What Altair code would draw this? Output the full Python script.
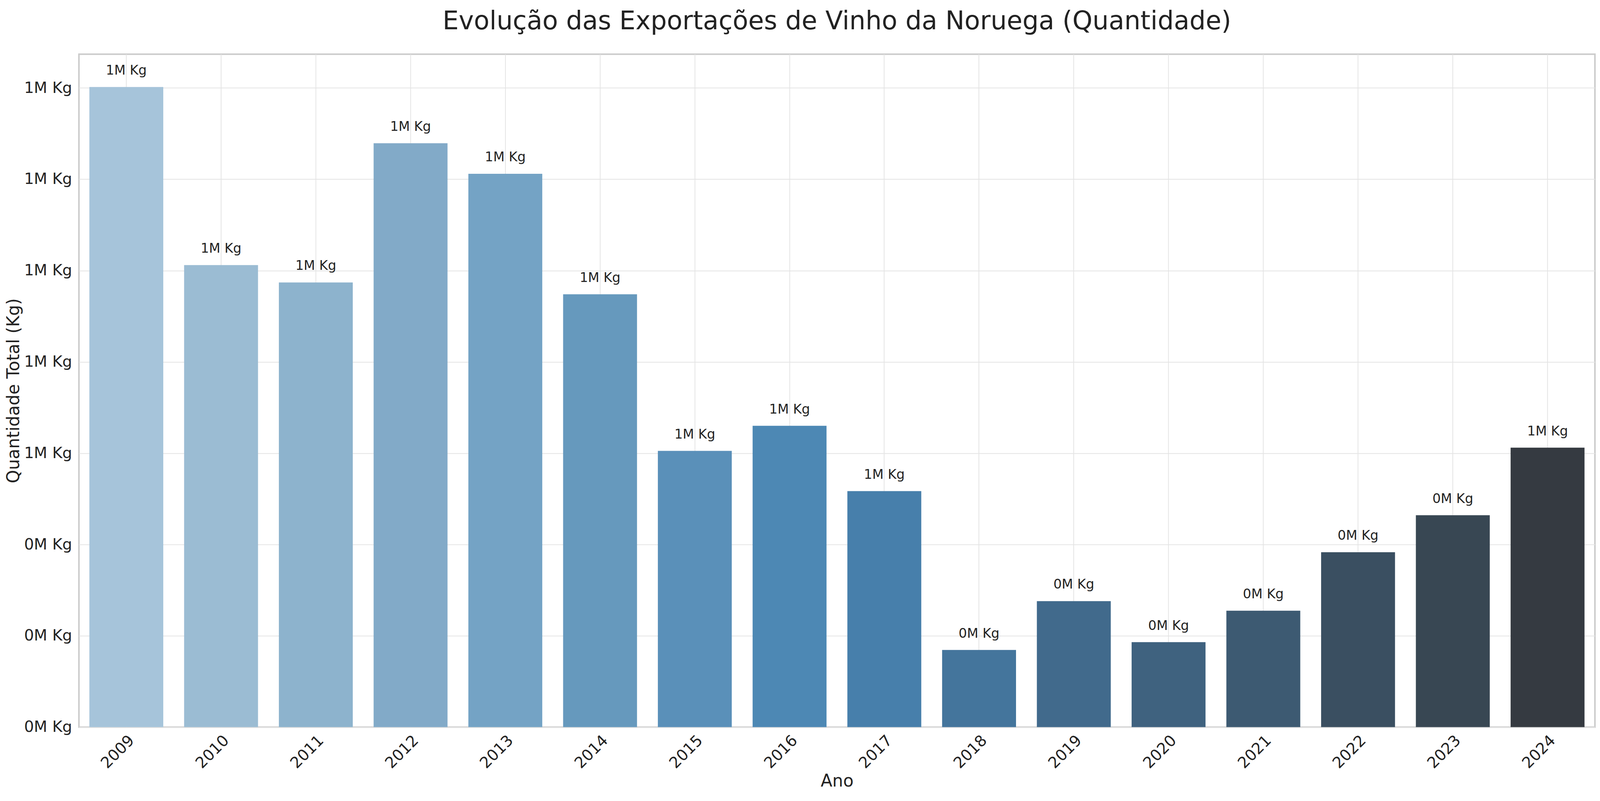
import altair as alt
import pandas as pd

anos = [str(a) for a in range(2009, 2025)]
quantidade = [1402000, 1012000, 974000, 1279000, 1212000, 948000, 605000, 660000,
              517000, 169000, 276000, 186000, 255000, 383000, 464000, 612000]
cores = ["#a6c4da", "#9bbcd3", "#8db3cd", "#82aac8", "#74a3c5", "#6699bd", "#5a90b9", "#4d88b4",
         "#477fab", "#44759c", "#416a8c", "#3f627f", "#3d5a72", "#3a4f61", "#384753", "#353a41"]

df = pd.DataFrame({"Ano": anos, "Quantidade": quantidade})

base = alt.Chart(df).encode(
    x=alt.X("Ano:N", title="Ano",
            scale=alt.Scale(paddingInner=0.22, paddingOuter=0.11),
            axis=alt.Axis(labelAngle=-45, labelFontSize=40, titleFontSize=44, ticks=False,
                          labelPadding=14, titleFontWeight="normal", grid=True)),
    y=alt.Y("Quantidade:Q", title="Quantidade Total (Kg)",
            scale=alt.Scale(domain=[0, 1474000], nice=False),
            axis=alt.Axis(values=[0, 200000, 400000, 600000, 800000, 1000000, 1200000, 1400000],
                          labelExpr="format(datum.value/1e6, '.0f') + 'M Kg'",
                          labelFontSize=40, titleFontSize=44, ticks=False, labelPadding=18,
                          titleFontWeight="normal")),
)

bars = base.mark_bar().encode(
    color=alt.Color("Ano:N", scale=alt.Scale(domain=anos, range=cores), legend=None)
)

labels = base.mark_text(dy=-42, fontSize=34, color="#222222").transform_calculate(
    rotulo="format(datum.Quantidade/1e6, '.0f') + 'M Kg'"
).encode(text="rotulo:N")

chart = (
    (bars + labels)
    .properties(
        title=alt.TitleParams("Evolução das Exportações de Vinho da Noruega (Quantidade)",
                              fontSize=66, fontWeight="normal", offset=50, color="#222222"),
        width=4120, height=2030,
        autosize=alt.AutoSizeParams(type="fit", contains="padding"),
        background="white",
    )
    .configure_axis(gridColor="#e4e4e4", gridWidth=2, domain=False, labelColor="#222222",
                    titleColor="#222222", labelFont="DejaVu Sans", titleFont="DejaVu Sans")
    .configure_title(font="DejaVu Sans")
    .configure_text(font="DejaVu Sans")
    .configure_view(stroke="#cccccc", strokeWidth=4)
)

chart.save("out.html", embed_options={"renderer": "svg", "actions": False})
